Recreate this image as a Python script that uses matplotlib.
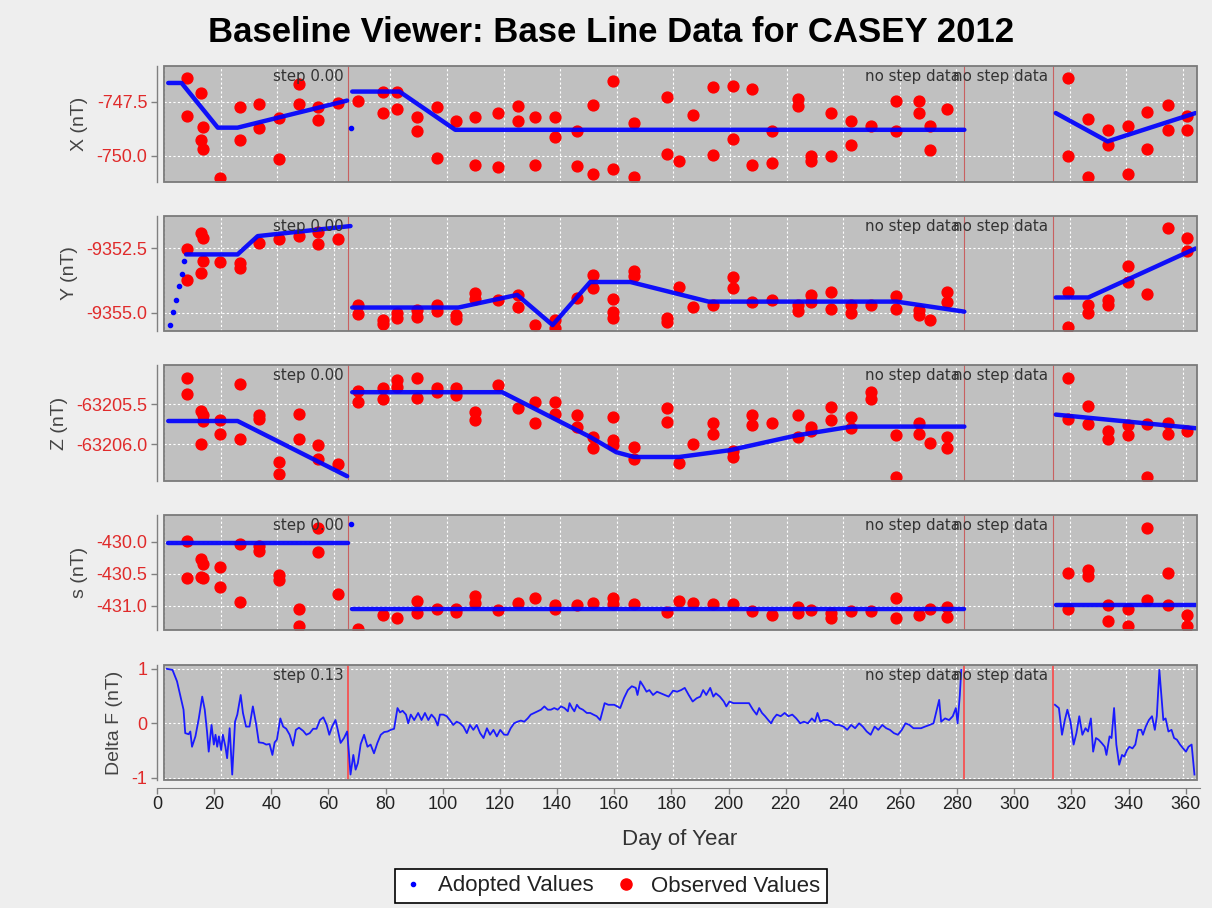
import numpy as np
import matplotlib
matplotlib.use('Agg')
import matplotlib.pyplot as plt
from matplotlib.patches import Rectangle
from matplotlib.lines import Line2D
from matplotlib.transforms import blended_transform_factory

plt.rcParams['axes.unicode_minus'] = False
plt.rcParams['font.family'] = ['Liberation Sans', 'DejaVu Sans']

nan = float('nan')

# ---------------- data ----------------
title = "Baseline Viewer: Base Line Data for CASEY 2012"
panel_labels = ["X (nT)", "Y (nT)", "Z (nT)", "s (nT)", "Delta F (nT)"]
step_days = [65.0, 282.8, 314.0]
step_texts_main = ["step 0.00", "no step data", "no step data"]
step_texts_df = ["step 0.13", "no step data", "no step data"]
x_ticks = list(range(0, 361, 20))

# X
x_obs_day = [8.1, 8.1, 13.2, 13.7, 13.2, 13.7, 19.7, 26.8, 26.8, 33.7, 33.7, 40.6, 40.6, 47.6, 47.6, 54.5, 54.5,
             61.5, 68.5, 77.4, 77.4, 82.4, 82.4, 89.3, 89.3, 96.3, 96.3, 103.2, 110.0, 110.0, 118.1, 118.1,
             125.2, 125.2, 131.1, 131.1, 138.0, 138.0, 146.0, 146.0, 151.7, 151.7, 158.8, 158.8, 165.9, 165.9,
             177.7, 177.7, 182.0, 186.9, 194.0, 194.0, 201.0, 201.0, 207.9, 207.9, 214.8, 214.8, 223.9, 223.9,
             228.7, 228.7, 235.7, 235.7, 242.9, 242.9, 249.8, 258.8, 258.8, 266.6, 266.6, 270.6, 270.6, 276.8,
             319.4, 319.4, 326.6, 326.6, 333.5, 333.5, 340.5, 340.5, 347.3, 347.3, 354.6, 354.6, 361.4, 361.4]
x_obs_val = [-746.40, -748.18, -747.10, -748.69, -749.26, -749.69, -751.03, -747.75, -749.26, -747.59, -748.72,
             -748.26, -750.14, -746.67, -747.59, -747.75, -748.33, -747.56, -747.44, -747.02, -748.02, -747.02,
             -747.84, -748.21, -748.86, -747.72, -750.11, -748.41, -748.21, -750.46, -748.02, -750.52, -747.69,
             -748.41, -748.21, -750.42, -748.21, -749.15, -748.86, -750.49, -747.64, -750.88, -746.51, -750.62,
             -748.49, -750.99, -747.25, -749.91, -750.26, -748.13, -746.79, -749.95, -746.76, -749.23, -746.91,
             -750.42, -748.84, -750.34, -747.38, -747.69, -750.03, -750.26, -748.02, -750.03, -748.41, -749.49,
             -748.64, -747.48, -748.87, -747.48, -748.02, -748.64, -749.75, -747.84, -746.40, -750.03, -748.30,
             -750.99, -748.83, -749.49, -748.64, -750.88, -747.95, -749.69, -747.64, -748.83, -748.18, -748.80]
x_adopt_day = [1.5, 6.2, 19.0, 26.0, 64.7, nan, 66.5, 83.2, 102.9, 282.8, nan, 315.1, 333.4, 364.5]
x_adopt_val = [-746.62, -746.62, -748.70, -748.70, -747.44, nan, -747.02, -747.02, -748.80, -748.80, nan,
               -748.02, -749.34, -748.02]
x_dot_day = [65.9]
x_dot_val = [-748.72]

# Y
y_obs_day = [8.1, 8.1, 13.2, 13.7, 13.2, 13.7, 19.7, 26.8, 26.8, 33.7, 40.6, 47.6, 54.5, 54.5, 61.5, 68.5, 68.5,
             77.4, 77.4, 82.4, 82.4, 89.3, 89.3, 96.3, 96.3, 103.2, 103.2, 110.0, 110.0, 118.1, 125.2, 125.2,
             131.1, 138.0, 138.0, 146.0, 151.7, 151.7, 158.8, 158.8, 158.8, 165.9, 165.9, 177.7, 177.7, 182.0,
             186.9, 194.0, 201.0, 201.0, 207.9, 214.8, 223.9, 223.9, 228.7, 228.7, 235.7, 235.7, 242.9, 242.9,
             249.8, 258.8, 258.8, 266.6, 266.6, 270.6, 276.8, 276.8, 319.4, 319.4, 326.6, 326.6, 333.5, 333.5,
             340.5, 340.5, 347.3, 354.6, 361.4, 361.4]
y_obs_val = [-9352.51, -9353.71, -9351.89, -9352.08, -9353.45, -9352.97, -9353.02, -9353.06, -9353.26, -9352.28,
             -9352.12, -9352.02, -9351.85, -9352.32, -9352.15, -9354.69, -9355.05, -9355.27, -9355.44, -9355.01,
             -9355.21, -9354.88, -9355.14, -9354.69, -9354.92, -9355.08, -9355.23, -9354.23, -9354.47, -9354.49,
             -9354.32, -9354.75, -9355.47, -9355.27, -9355.57, -9354.43, -9353.52, -9354.04, -9354.47, -9354.95,
             -9355.21, -9353.39, -9353.58, -9355.21, -9355.34, -9354.01, -9354.75, -9354.69, -9353.62, -9354.04,
             -9354.58, -9354.49, -9354.69, -9354.92, -9354.30, -9354.56, -9354.19, -9354.84, -9354.69, -9355.01,
             -9354.69, -9354.36, -9354.84, -9354.88, -9355.08, -9355.27, -9354.19, -9354.56, -9354.19, -9355.53,
             -9354.69, -9355.01, -9354.49, -9354.69, -9353.19, -9353.80, -9354.27, -9351.72, -9352.08, -9352.60]
y_adopt_day = [7.8, 26.0, 33.1, 65.9, nan, 66.5, 104.0, 124.8, 137.3, 150.6, 164.8, 192.4, 258.8, 282.8, nan,
               315.1, 326.6, 364.5]
y_adopt_val = [-9352.73, -9352.73, -9352.02, -9351.63, nan, -9354.79, -9354.79, -9354.30, -9355.47, -9353.80,
               -9353.80, -9354.56, -9354.56, -9354.95, nan, -9354.40, -9354.40, -9352.50]
y_dot_day = [2.1, 3.1, 4.1, 5.3, 6.3, 7.1]
y_dot_val = [-9355.47, -9354.97, -9354.49, -9353.97, -9353.49, -9352.99]

# Z
z_obs_day = [8.1, 8.1, 13.2, 13.7, 13.2, 13.7, 19.7, 19.7, 26.8, 26.8, 33.7, 33.7, 40.6, 40.6, 47.6, 47.6, 54.5,
             54.5, 61.5, 68.5, 68.5, 77.4, 77.4, 82.4, 82.4, 89.3, 89.3, 96.3, 96.3, 103.2, 103.2, 110.0, 110.0,
             118.1, 125.2, 131.1, 131.1, 138.0, 138.0, 146.0, 146.0, 151.7, 151.7, 158.8, 158.8, 158.8, 165.9,
             165.9, 177.7, 177.7, 182.0, 186.9, 194.0, 194.0, 201.0, 201.0, 207.9, 207.9, 214.8, 223.9, 223.9,
             228.7, 228.7, 235.7, 235.7, 242.9, 242.9, 249.8, 249.8, 258.8, 258.8, 266.6, 266.6, 270.6, 276.8,
             276.8, 319.4, 319.4, 326.6, 326.6, 333.5, 333.5, 340.5, 340.5, 347.3, 347.3, 354.6, 354.6, 361.4]
z_obs_val = [-63205.17, -63205.37, -63205.58, -63205.64, -63206.00, -63205.71, -63205.70, -63205.87, -63205.25,
             -63205.94, -63205.64, -63205.68, -63206.22, -63206.37, -63205.62, -63205.94, -63206.01, -63206.18,
             -63206.25, -63205.34, -63205.47, -63205.30, -63205.43, -63205.20, -63205.28, -63205.17, -63205.42,
             -63205.30, -63205.35, -63205.30, -63205.38, -63205.60, -63205.70, -63205.26, -63205.55, -63205.47,
             -63205.73, -63205.47, -63205.62, -63205.64, -63205.78, -63205.91, -63206.05, -63205.66, -63205.95,
             -63206.01, -63206.03, -63206.18, -63205.55, -63205.72, -63206.24, -63206.00, -63205.74, -63205.87,
             -63206.08, -63206.16, -63205.64, -63205.76, -63205.74, -63205.64, -63205.91, -63205.78, -63205.84,
             -63205.53, -63205.70, -63205.66, -63205.80, -63205.35, -63205.43, -63205.88, -63206.41, -63205.74,
             -63205.87, -63205.99, -63205.91, -63206.05, -63205.17, -63205.69, -63205.52, -63205.75, -63205.84,
             -63205.93, -63205.76, -63205.88, -63205.75, -63206.41, -63205.74, -63205.87, -63205.83]
z_adopt_day = [1.5, 26.0, 64.7, nan, 66.5, 119.5, 150.6, 159.8, 166.1, 182.0, 199.9, 223.5, 242.9, 282.8, nan,
               315.1, 364.5]
z_adopt_val = [-63205.71, -63205.71, -63206.40, nan, -63205.35, -63205.35, -63205.91, -63206.10, -63206.16,
               -63206.16, -63206.075, -63205.89, -63205.78, -63205.78, nan, -63205.63, -63205.80]
z_dot_day = []
z_dot_val = []

# s
s_obs_day = [8.1, 8.1, 13.2, 13.7, 13.2, 13.7, 19.7, 19.7, 26.8, 26.8, 33.7, 33.7, 40.6, 40.6, 47.6, 47.6, 54.5,
             54.5, 61.5, 68.5, 77.4, 82.4, 89.3, 89.3, 96.3, 103.2, 103.2, 110.0, 110.0, 118.1, 125.2, 131.1,
             138.0, 138.0, 146.0, 151.7, 158.8, 158.8, 165.9, 177.7, 182.0, 186.9, 194.0, 201.0, 207.9, 214.8,
             223.9, 223.9, 228.7, 235.7, 235.7, 242.9, 249.8, 258.8, 258.8, 266.6, 270.6, 276.8, 276.8, 319.4,
             319.4, 326.6, 326.6, 333.5, 333.5, 340.5, 340.5, 347.3, 347.3, 354.6, 354.6, 361.4, 361.4]
s_obs_val = [-429.98, -430.56, -430.26, -430.35, -430.54, -430.56, -430.39, -430.70, -430.04, -430.94, -430.06,
             -430.14, -430.51, -430.59, -431.04, -431.31, -429.78, -430.16, -430.82, -431.36, -431.14, -431.19,
             -430.92, -431.11, -431.04, -431.04, -431.09, -430.85, -430.96, -431.06, -430.96, -430.87, -430.98,
             -431.05, -430.98, -430.96, -430.88, -430.97, -430.97, -431.10, -430.92, -430.96, -430.97, -430.97,
             -431.08, -431.14, -431.01, -431.11, -431.06, -431.11, -431.19, -431.08, -431.08, -430.88, -431.18,
             -431.14, -431.04, -431.01, -431.17, -430.49, -431.05, -430.44, -430.53, -430.98, -431.24, -431.05,
             -431.31, -429.78, -430.91, -430.49, -430.98, -431.14, -431.31]
s_adopt_day = [1.5, 65.0, nan, 66.5, 282.8, nan, 315.1, 364.5]
s_adopt_val = [-430.02, -430.02, nan, -431.05, -431.05, nan, -430.98, -430.98]
s_dot_day = [65.9]
s_dot_val = [-429.72]

# Delta F
df_day = [1.0, 3.0, 4.6, 6.9, 7.5, 8.7, 9.3, 9.9, 11.1, 12.3, 13.5, 14.4, 15.2, 15.8, 16.8, 17.6, 18.2, 18.8,
          19.4, 20.2, 20.8, 21.7, 22.3, 23.2, 24.1, 25.1, 25.9, 27.1, 27.9, 29.0, 30.2, 31.4, 32.6, 33.5, 35.0,
          36.1, 37.3, 38.3, 39.1, 39.9, 41.1, 42.1, 43.2, 44.4, 45.6, 46.6, 47.7, 49.2, 50.3, 51.5, 52.7, 53.9,
          55.1, 56.3, 57.5, 58.4, 59.4, 60.6, 61.4, 62.4, 63.6, 64.7, 65.3, 65.9, 66.9, 67.7, 68.5, 69.5, 70.7,
          71.9, 73.0, 74.2, 75.4, 76.6, 77.8, 79.0, 80.1, 81.3, 82.5, 83.4, 84.3, 85.5, 86.3, 87.2, 88.4, 89.8,
          91.0, 92.2, 93.4, 94.5, 95.7, 96.7, 97.5, 98.7, 99.9, 101.0, 102.2, 103.4, 104.6, 105.8, 107.0, 108.1,
          109.3, 110.5, 111.7, 112.9, 114.1, 115.2, 116.4, 117.6, 118.8, 120.2, 121.4, 122.5, 123.7, 124.9,
          126.1, 127.3, 128.5, 129.6, 130.8, 132.0, 133.2, 134.4, 135.6, 136.7, 137.9, 139.1, 140.3, 141.5,
          142.7, 143.3, 144.2, 145.0, 145.9, 146.8, 148.0, 149.4, 150.6, 151.7, 152.9, 154.1,
          155.7, 157.0, 159.1, 161.2, 162.5, 163.9, 165.3, 166.7, 167.3, 168.3, 169.4, 170.5, 171.5, 172.8,
          174.2, 175.6, 177.0, 178.3, 179.9, 181.3, 182.7, 184.0, 185.4, 186.8, 188.2, 189.5, 190.5, 191.6,
          193.0, 194.1, 195.0, 196.4, 197.8, 198.7, 199.8, 201.2, 202.6, 204.0, 205.3, 206.7, 208.1, 209.4,
          210.3, 211.3, 212.4, 213.5, 214.5, 215.4, 216.5, 217.9, 219.3, 220.6, 222.0, 223.4, 224.8, 226.1,
          227.5, 228.9, 230.0, 230.9, 231.9, 233.0, 234.4, 235.7, 237.1, 238.5, 240.1, 241.4, 242.8, 244.2,
          245.6, 246.9, 248.3, 249.7, 251.1, 252.4, 253.8, 255.2, 256.5, 257.9, 259.3, 260.7, 262.0, 263.4,
          264.8, 266.2, 267.5, 268.9, 270.5, 271.9, 272.5, 273.9, 274.6, 276.0, 277.4, 278.7, 279.8, 280.4,
          281.2, 281.7,
          314.8, 316.2, 317.3, 318.3, 319.2, 320.3, 321.4, 322.4, 323.4, 324.5, 325.6, 326.5, 327.5, 328.3,
          329.3, 330.2, 331.3, 332.4, 333.0, 334.1, 334.8, 335.7, 336.5, 337.5, 338.5, 339.3, 340.3, 341.1,
          342.2, 343.2, 344.2, 345.3, 345.9, 346.9, 348.0, 349.1, 350.1, 350.8, 351.7, 352.4, 353.1, 353.9,
          354.9, 356.0, 356.9, 357.9, 359.0, 360.1, 361.1, 362.0, 363.1, 364.1]
df_val = [1.0, 0.98, 0.77, 0.25, -0.18, -0.20, -0.15, -0.43, -0.24, 0.09,
          0.49, 0.25, -0.15, -0.52, -0.03, -0.39, -0.21, -0.43, -0.24, -0.49,
          -0.21, -0.43, -0.64, -0.09, -0.94, 0.03, 0.16, 0.52, 0.19, -0.06,
          -0.06, 0.31, -0.03, -0.35, -0.36, -0.39, -0.38, -0.58, -0.35, -0.30,
          0.09, -0.06, -0.10, -0.21, -0.41, -0.12, -0.08, -0.14, -0.21, -0.18,
          -0.10, -0.10, 0.06, 0.11, -0.03, -0.21, -0.06, 0.06, -0.12, -0.36,
          -0.27, -0.15, -0.52, -0.94, -0.58, -0.85, -0.73, -0.38, -0.21, -0.43,
          -0.39, -0.55, -0.36, -0.21, -0.16, -0.15, -0.12, -0.10, 0.28, 0.20,
          0.23, 0.16, 0.00, 0.16, 0.06, 0.19, 0.06, 0.19, 0.06, 0.16,
          0.09, -0.04, 0.16, 0.16, 0.13, 0.06, -0.03, 0.03, 0.00, -0.06,
          -0.18, -0.03, -0.12, -0.03, -0.18, -0.27, -0.09, -0.21, -0.12, -0.24,
          -0.12, -0.21, -0.21, -0.09, 0.00, 0.03, 0.05, 0.03, 0.09, 0.16,
          0.19, 0.22, 0.25, 0.31, 0.25, 0.25, 0.28, 0.25, 0.31, 0.28,
          0.22, 0.37, 0.28, 0.22, 0.34, 0.28, 0.25, 0.19, 0.19, 0.16,
          0.13, 0.06,
          0.37, 0.34, 0.34, 0.28, 0.46, 0.61, 0.68, 0.65, 0.52, 0.77,
          0.68, 0.58, 0.61, 0.52, 0.58, 0.55, 0.52, 0.49, 0.60, 0.58,
          0.61, 0.65, 0.52, 0.40, 0.46, 0.49, 0.61, 0.52, 0.65, 0.49,
          0.55, 0.49, 0.40, 0.31, 0.40, 0.37, 0.37, 0.37, 0.37, 0.37,
          0.25, 0.16, 0.28, 0.19, 0.13, 0.06, 0.00, 0.09, 0.16, 0.13,
          0.19, 0.13, 0.16, 0.09, 0.00, 0.03, 0.00, 0.09, 0.03, 0.19,
          0.03, 0.06, 0.06, 0.03, -0.03, -0.03, -0.06, -0.12, -0.03, -0.09,
          0.00, -0.06, -0.15, -0.21, -0.06, -0.12, -0.03, -0.09, -0.12, -0.18,
          -0.21, -0.12, 0.00, -0.03, -0.09, -0.09, -0.09, -0.06, -0.03, 0.00,
          0.13, 0.43, 0.03, 0.09, 0.06, 0.13, 0.28, 0.00, 0.52, 0.98,
          0.34, 0.28, -0.21, 0.06, 0.25, 0.03, -0.39, -0.18, 0.13, -0.21,
          -0.09, -0.15, 0.09, -0.52, -0.27, -0.30, -0.36, -0.43, -0.58, -0.24,
          -0.27, 0.28, -0.39, -0.76, -0.58, -0.61, -0.49, -0.43, -0.46, -0.39,
          -0.12, -0.12, -0.21, -0.06, 0.06, 0.13, -0.12, 0.13, 0.98, 0.52,
          0.06, 0.09, -0.15, -0.12, -0.27, -0.30, -0.39, -0.46, -0.52, -0.43,
          -0.39, -0.94]

# axis ranges and ticks per panel
y_limits = [(-751.23, -745.83), (-9355.70, -9351.24), (-63206.46, -63205.01), (-431.375, -429.58), (-1.04, 1.07)]
y_ticks = [[-750.0, -747.5], [-9355.0, -9352.5], [-63206.0, -63205.5], [-431.0, -430.5, -430.0], [-1, 0, 1]]
y_fmt = ["{:.1f}", "{:.1f}", "{:.1f}", "{:.1f}", "{:.0f}"]

# ---------------- figure ----------------
W, H = 1212, 908
fig = plt.figure(figsize=(W / 100, H / 100), dpi=100, facecolor='#eeeeee')


def rect(l, t, r, b):
    return [l / W, 1 - b / H, (r - l) / W, (b - t) / H]


panel_px = [(66, 182), (216, 331), (365, 481), (515, 630), (665, 780)]
PL, PR = 164, 1197
XLIM = (0.5, 365.0)

BLUE = '#0000ff'
RED = '#ff0000'
TICKRED = '#e02a2a'

obs = [(x_obs_day, x_obs_val), (y_obs_day, y_obs_val), (z_obs_day, z_obs_val), (s_obs_day, s_obs_val)]
adopt = [(x_adopt_day, x_adopt_val), (y_adopt_day, y_adopt_val), (z_adopt_day, z_adopt_val),
         (s_adopt_day, s_adopt_val)]
dots = [(x_dot_day, x_dot_val), (y_dot_day, y_dot_val), (z_dot_day, z_dot_val), (s_dot_day, s_dot_val)]

for i, (t, b) in enumerate(panel_px):
    ax = fig.add_axes(rect(PL, t, PR, b))
    ax.set_facecolor('#c0c0c0')
    ax.set_xlim(*XLIM)
    ax.set_ylim(*y_limits[i])
    for s in ['top', 'right', 'bottom']:
        ax.spines[s].set_visible(False)
    ax.spines['left'].set_position(('outward', 5))
    ax.spines['left'].set_color('#808080')
    ax.spines['left'].set_linewidth(1.0)
    ax.add_patch(Rectangle((0, 0), 1, 1, transform=ax.transAxes, fill=False,
                           edgecolor='#7a7a7a', lw=1.3, clip_on=False, zorder=6))
    ax.set_xticks(x_ticks)
    ax.tick_params(axis='x', bottom=False, labelbottom=False)
    ax.set_yticks(y_ticks[i])
    ax.set_yticklabels([y_fmt[i].format(v) for v in y_ticks[i]])
    ax.tick_params(axis='y', direction='out', length=4, width=1, color='#808080',
                   labelcolor=TICKRED, labelsize=13, pad=3)
    ax.grid(True, color='white', linestyle=(0, (2, 2)), linewidth=0.8)
    ax.set_axisbelow(True)
    ax.set_ylabel(panel_labels[i], fontsize=14, color='#444444', labelpad=6)

    texts = step_texts_df if i == 4 else step_texts_main
    for d, txt in zip(step_days, texts):
        if i == 4:
            ax.axvline(d, color='#f25a5a', lw=1.4, zorder=2)
        else:
            ax.axvline(d, color='#c86060', lw=0.8, zorder=2)
        tr = blended_transform_factory(ax.transData, ax.transAxes)
        ax.annotate(txt, xy=(d, 1), xycoords=tr, xytext=(-3, -2), textcoords='offset points',
                    ha='right', va='top', fontsize=10.8, color='#333333', family='DejaVu Sans', zorder=7)

    if i < 4:
        od, ov = obs[i]
        ax.plot(od, ov, 'o', color=RED, ms=7.8, mec=RED, zorder=3)
        ad, av = adopt[i]
        ax.plot(ad, av, '-', color=BLUE, lw=3.2, alpha=0.92, solid_capstyle='round', zorder=4)
        dd, dv = dots[i]
        if len(dd):
            ax.plot(dd, dv, 'o', color=BLUE, ms=3.0, zorder=4)
    else:
        d = np.array(df_day, dtype=float)
        v = np.array(df_val, dtype=float)
        brk = np.where(np.diff(d) > 10)[0]
        d = np.insert(d, brk + 1, np.nan)
        v = np.insert(v, brk + 1, np.nan)
        ax.plot(d, v, '-', color='#1a1aff', lw=1.3, zorder=4)

# bottom domain axis (offset below the panels)
axx = fig.add_axes(rect(157, 786, 1200, 788))
axx.patch.set_visible(False)
for s in ['top', 'right', 'left']:
    axx.spines[s].set_visible(False)
axx.spines['bottom'].set_color('#808080')
axx.set_xlim(0, 365)
axx.set_yticks([])
axx.set_xticks(x_ticks)
axx.set_xticklabels([str(v) for v in x_ticks])
axx.tick_params(axis='x', direction='out', length=4, width=1, color='#808080',
                labelsize=13, labelcolor='#222222', pad=2)

fig.text(680 / W, 1 - 840 / H, "Day of Year", ha='center', va='center', fontsize=16, color='#333333')
fig.text(611 / W, 1 - 33 / H, title, ha='center', va='center', fontsize=25, fontweight='bold', color='black')

handles = [Line2D([], [], marker='o', ls='none', color=BLUE, ms=3),
           Line2D([], [], marker='o', ls='none', color=RED, ms=8)]
leg = fig.legend(handles, ["Adopted Values", "Observed Values"], loc='center',
                 bbox_to_anchor=(611 / W, 1 - 886 / H), ncol=2, fontsize=16, frameon=True,
                 fancybox=False, edgecolor='black', framealpha=1, handlelength=1.0,
                 handletextpad=0.6, columnspacing=1.0, borderpad=0.3)
leg.get_frame().set_linewidth(1.2)
for t in leg.get_texts():
    t.set_color('#222222')

fig.savefig('out.png', dpi=100, facecolor=fig.get_facecolor())
